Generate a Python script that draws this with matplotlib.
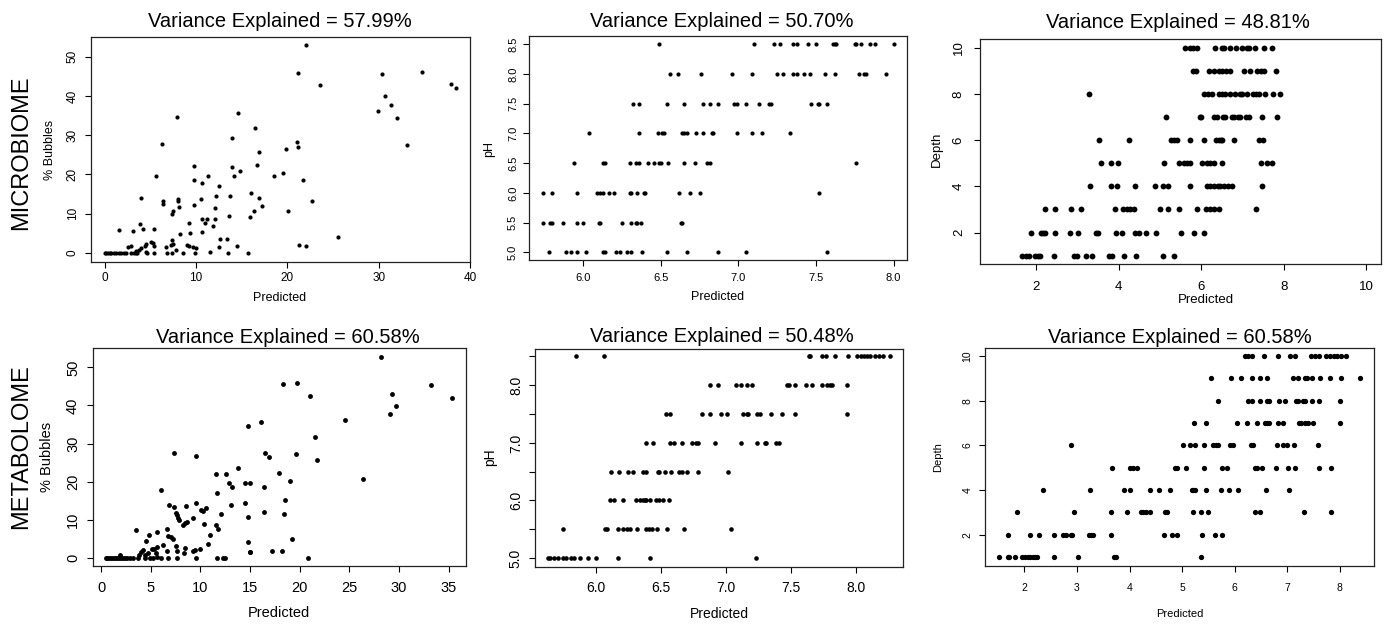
import numpy as np
import matplotlib
matplotlib.use("Agg")
import matplotlib.pyplot as plt

plt.rcParams['font.family'] = ['Liberation Sans', 'DejaVu Sans']

# ---------------- data ----------------
titles = ["Variance Explained = 57.99%", "Variance Explained = 50.70%", "Variance Explained = 48.81%",
          "Variance Explained = 60.58%", "Variance Explained = 50.48%", "Variance Explained = 60.58%"]
row_labels = ["MICROBIOME", "METABOLOME"]

# microbiome, % bubbles
mic_bub_pred = [22.0, 21.2, 30.4, 34.7, 23.6, 37.9, 38.5, 30.7, 31.3, 29.9,
                32.0, 7.86, 14.6, 33.1, 6.25, 13.9, 16.5, 21.0, 21.2, 19.8,
                16.9, 9.72, 13.9, 16.7, 14.8, 14.1, 11.3, 5.66, 18.5, 19.5,
                21.7, 9.76, 10.6, 12.5, 16.0, 12.2, 13.7, 16.9, 3.98, 8.0,
                8.07, 10.5, 6.39, 6.39, 9.76, 22.7, 17.2, 8.17, 12.1, 7.45,
                7.34, 16.3, 20.1, 15.9, 13.6, 12.1, 10.7, 11.2, 11.0, 9.24,
                3.87, 11.9, 1.53, 3.07, 4.20, 5.37, 10.7, 9.3, 8.2, 25.5,
                12.6, 13.4, 7.38, 7.45, 7.3, 5.04, 5.3, 5.44, 4.5, 4.4,
                3.95, 3.7, 3.4, 2.85, 2.5, 6.76, 9.0, 9.2, 9.7, 9.94,
                12.5, 14.5, 21.3, 22.0, 7.8, 11.5, 4.5]
mic_bub_obs = [53.0, 45.9, 45.7, 46.1, 42.7, 43.1, 42.0, 40.1, 37.8, 36.2,
               34.5, 34.7, 35.7, 27.6, 27.7, 29.4, 31.8, 28.3, 26.9, 26.6,
               25.7, 22.2, 21.9, 22.3, 20.8, 19.7, 19.6, 19.6, 19.7, 20.3,
               18.6, 18.6, 17.9, 17.1, 15.2, 14.6, 14.5, 14.0, 14.0, 13.8,
               13.2, 13.7, 13.2, 12.6, 12.3, 13.2, 12.0, 11.7, 11.5, 10.6,
               10.0, 10.6, 10.7, 9.3, 9.5, 8.7, 8.7, 8.6, 7.6, 7.6,
               7.5, 6.9, 5.9, 5.7, 6.1, 6.0, 5.3, 5.0, 4.75, 4.2,
               3.65, 3.5, 3.3, 2.4, 2.0, 2.8, 2.5, 1.8, 2.2, 1.8,
               1.4, 0.9, 0.6, 1.8, 1.5, 1.5, 2.0, 1.9, 1.6, 1.4,
               1.6, 1.7, 2.0, 1.9, 0.8, 0.35, 0.25]
# predictions for samples with 0 % bubbles
mic_bub_pred_zero = [0.0, 0.18, 0.37, 0.55, 0.73, 0.99, 1.24, 1.53, 1.79, 2.16, 2.37, 2.92,
                     3.18, 3.4, 3.58, 4.68, 5.37, 6.83, 7.34, 8.59, 9.83, 13.5, 15.7]

# microbiome, pH (observed levels and predicted values at each level)
mic_ph_levels = [8.5, 8.0, 7.5, 7.0, 6.5, 6.0, 5.5, 5.0]
mic_ph_pred = [
    [6.49, 7.10, 7.23, 7.27, 7.35, 7.38, 7.45, 7.50, 7.61, 7.62, 7.63, 7.75, 7.76, 7.79, 7.85, 7.88, 8.00],
    [6.56, 6.61, 6.76, 6.96, 7.09, 7.25, 7.29, 7.35, 7.38, 7.42, 7.46, 7.56, 7.62, 7.78, 7.81, 7.82, 7.95],
    [6.32, 6.36, 6.54, 6.65, 6.77, 6.82, 6.87, 6.97, 6.99, 7.05, 7.13, 7.20, 7.21, 7.47, 7.51, 7.52, 7.57],
    [6.04, 6.36, 6.48, 6.51, 6.52, 6.64, 6.65, 6.67, 6.73, 6.77, 6.83, 6.84, 6.99, 7.09, 7.15, 7.33],
    [5.94, 6.13, 6.14, 6.30, 6.34, 6.36, 6.42, 6.46, 6.49, 6.50, 6.55, 6.65, 6.72, 6.80, 6.82, 7.76],
    [5.74, 5.80, 5.96, 6.09, 6.11, 6.13, 6.17, 6.20, 6.30, 6.31, 6.35, 6.39, 6.40, 6.62, 6.69, 6.75, 7.52],
    [5.74, 5.79, 5.80, 5.87, 5.96, 6.00, 6.10, 6.11, 6.25, 6.31, 6.34, 6.35, 6.37, 6.63, 6.64],
    [5.78, 5.89, 5.92, 5.96, 6.02, 6.13, 6.14, 6.21, 6.24, 6.28, 6.31, 6.38, 6.54, 6.67, 6.87, 7.05, 7.57],
]

# microbiome, depth
mic_depth_levels = [10, 9, 8, 7, 6, 5, 4, 3, 2, 1]
mic_depth_pred = [
    [5.61, 5.72, 5.81, 5.89, 6.33, 6.50, 6.55, 6.70, 6.84, 6.99, 7.12, 7.17, 7.31, 7.51, 7.71],
    [5.81, 5.88, 6.19, 6.30, 6.44, 6.51, 6.60, 6.69, 7.04, 7.19, 7.35, 7.45, 7.51, 7.82],
    [3.28, 6.06, 6.16, 6.27, 6.44, 6.51, 6.57, 6.70, 6.81, 6.93, 6.99, 7.11, 7.25, 7.33, 7.39, 7.55, 7.74, 7.90],
    [5.15, 5.96, 5.99, 6.32, 6.38, 6.53, 6.58, 6.74, 6.79, 6.89, 6.94, 7.09, 7.17, 7.47, 7.83],
    [3.51, 4.25, 5.26, 5.34, 5.42, 5.73, 6.06, 6.35, 6.42, 6.48, 6.51, 6.79, 7.41, 7.49],
    [3.58, 3.82, 3.97, 5.09, 5.47, 5.57, 5.65, 5.73, 6.02, 6.13, 6.22, 6.32, 6.51, 7.45, 7.59, 7.71],
    [3.29, 3.81, 3.96, 4.39, 4.88, 5.07, 5.20, 5.73, 6.14, 6.22, 6.30, 6.40, 6.46, 6.56, 6.64, 6.75, 7.48],
    [2.20, 2.45, 2.83, 3.08, 3.91, 4.10, 4.20, 4.28, 4.36, 5.00, 5.20, 5.47, 5.89, 6.11, 6.21, 6.32, 6.42, 7.32],
    [1.87, 2.11, 2.16, 2.21, 2.45, 2.82, 3.02, 3.45, 3.49, 3.92, 4.08, 4.39, 4.48, 4.67, 4.90, 5.50, 5.82, 6.07],
    [1.64, 1.74, 1.81, 1.96, 2.03, 2.10, 2.42, 2.91, 2.99, 3.20, 3.36, 3.76, 3.83, 4.13, 4.41, 5.07, 5.35],
]

# metabolome, % bubbles
met_bub_pred = [28.2, 18.3, 19.7, 33.2, 21.0, 29.3, 35.3, 29.7, 29.1, 24.6,
                16.1, 14.8, 21.6, 7.32, 9.56, 16.5, 16.9, 19.6, 21.8, 13.8,
                17.9, 11.6, 12.6, 26.4, 19.0, 12.9, 13.2, 14.5, 15.0, 16.4,
                6.0, 11.7, 18.5, 9.53, 14.5, 6.88, 7.35, 8.56, 13.1, 10.6,
                10.1, 10.3, 7.55, 7.62, 12.1, 16.4, 18.4, 7.72, 7.82, 14.8,
                9.23, 8.69, 8.46, 8.26, 10.4, 11.6, 11.8, 3.56, 6.68, 5.67,
                11.0, 4.8, 6.74, 7.01, 7.25, 4.53, 14.8, 19.2, 10.8, 6.28,
                7.55, 8.42, 5.6, 5.34, 5.1, 9.97, 9.23, 9.5, 15.0, 15.0,
                17.2, 18.2, 6.68, 7.68, 8.39, 4.0, 4.26, 4.77, 5.5, 3.79,
                4.43, 1.88, 5.67]
met_bub_obs = [52.8, 45.7, 46.0, 45.5, 42.6, 43.0, 41.9, 39.9, 37.7, 36.2,
               35.6, 34.6, 31.7, 27.6, 26.8, 27.6, 26.6, 27.4, 25.6, 23.5,
               22.3, 21.9, 22.1, 20.8, 20.3, 19.8, 18.6, 19.6, 19.6, 18.5,
               17.9, 17.1, 15.2, 14.5, 14.5, 14.0, 13.3, 13.6, 13.8, 13.2,
               12.6, 12.2, 11.9, 11.3, 11.6, 12.0, 11.6, 10.4, 10.0, 10.7,
               10.5, 9.5, 9.1, 8.7, 8.8, 8.7, 7.6, 7.4, 7.5, 6.8,
               6.1, 5.9, 5.8, 5.6, 5.1, 4.5, 4.3, 4.9, 3.6, 3.5,
               3.2, 2.7, 2.8, 2.3, 2.4, 2.3, 1.9, 2.1, 1.7, 1.6,
               1.9, 1.9, 1.8, 1.9, 1.2, 1.7, 2.1, 1.4, 1.2, 0.8,
               0.8, 0.7, 0.2]
met_bub_pred_zero = [0.47, 0.64, 0.84, 1.04, 1.24, 1.44, 1.64, 1.85, 2.05, 2.25, 2.45, 2.65, 2.92,
                     3.19, 3.72, 4.46, 4.93, 5.2, 6.04, 6.74, 7.62, 9.53, 11.7, 12.3, 12.5, 20.8]

# metabolome, pH
met_ph_levels = [8.5, 8.0, 7.5, 7.0, 6.5, 6.0, 5.5, 5.0]
met_ph_pred = [
    [5.85, 6.06, 7.64, 7.65, 7.74, 7.77, 7.84, 7.94, 8.01, 8.04, 8.06, 8.09, 8.11, 8.15, 8.18, 8.21, 8.26],
    [6.88, 6.94, 7.08, 7.12, 7.16, 7.20, 7.47, 7.49, 7.53, 7.62, 7.66, 7.74, 7.78, 7.80, 7.82, 7.93],
    [6.54, 6.57, 6.82, 6.88, 6.96, 7.01, 7.13, 7.16, 7.17, 7.24, 7.26, 7.35, 7.43, 7.53, 7.93],
    [6.39, 6.44, 6.57, 6.60, 6.66, 6.74, 6.77, 6.79, 6.92, 7.12, 7.24, 7.30, 7.31, 7.39, 7.41],
    [6.12, 6.18, 6.25, 6.29, 6.36, 6.39, 6.48, 6.49, 6.53, 6.58, 6.64, 6.66, 6.70, 6.79, 7.02],
    [6.11, 6.14, 6.21, 6.31, 6.34, 6.36, 6.38, 6.39, 6.42, 6.46, 6.49, 6.52, 6.56],
    [5.75, 6.07, 6.09, 6.17, 6.21, 6.24, 6.26, 6.32, 6.39, 6.41, 6.43, 6.47, 6.55, 6.68, 7.04],
    [5.63, 5.65, 5.68, 5.71, 5.75, 5.77, 5.81, 5.83, 5.88, 5.94, 6.00, 6.17, 6.42, 7.23],
]

# metabolome, depth
met_depth_levels = [10, 9, 8, 7, 6, 5, 4, 3, 2, 1]
met_depth_pred = [
    [6.20, 6.26, 6.32, 6.56, 6.82, 7.05, 7.15, 7.46, 7.52, 7.61, 7.74, 7.81, 7.88, 7.94, 8.03, 8.11],
    [5.54, 5.93, 6.12, 6.32, 6.48, 6.61, 7.10, 7.20, 7.33, 7.37, 7.47, 7.62, 7.82, 8.02, 8.38],
    [5.68, 6.26, 6.33, 6.48, 6.61, 6.66, 6.84, 6.96, 7.17, 7.20, 7.30, 7.34, 7.47, 7.60, 8.01],
    [5.23, 5.45, 6.04, 6.23, 6.43, 6.58, 6.62, 6.66, 6.82, 6.92, 7.22, 7.27, 7.34, 7.40, 7.49, 8.01],
    [2.88, 5.02, 5.15, 5.24, 5.42, 5.58, 5.64, 5.69, 5.91, 5.96, 6.31, 6.34, 6.81, 6.92, 6.99, 7.13, 7.58],
    [3.67, 4.00, 4.07, 4.15, 4.86, 4.91, 5.07, 5.41, 5.75, 5.86, 6.39, 6.43, 6.51, 6.78, 7.02, 7.15, 7.60, 7.84],
    [2.35, 3.24, 3.89, 4.00, 4.39, 4.56, 4.76, 5.18, 5.21, 5.25, 5.46, 5.73, 5.90, 6.07, 6.60, 7.03],
    [1.85, 2.94, 3.64, 3.95, 4.21, 4.26, 4.32, 4.39, 4.67, 4.71, 5.20, 5.36, 5.50, 6.39, 6.49, 7.32, 7.84],
    [1.68, 2.11, 2.27, 2.57, 2.74, 2.80, 2.88, 2.91, 3.23, 3.27, 3.30, 3.64, 4.66, 4.81, 4.90, 5.37, 5.62, 5.75],
    [1.52, 1.68, 1.71, 1.82, 1.96, 2.01, 2.06, 2.11, 2.16, 2.21, 2.24, 2.57, 3.02, 3.71, 3.75, 5.36],
]

# ---------------- figure ----------------
W, H = 1387, 624
fig = plt.figure(figsize=(W / 100, H / 100), dpi=100)
TICK_LEN = 6  # px


def px(x, y):
    return x / W, 1 - y / H


def make_axes(box, xlim, ylim, xticks, yticks, tick_fs, dx, dy, ylabels=None, xfmt="{:g}", yfmt="{:g}"):
    left, top, right, bottom = box
    ax = fig.add_axes([left / W, 1 - bottom / H, (right - left) / W, (bottom - top) / H])
    ax.set_xlim(*xlim)
    ax.set_ylim(*ylim)
    ax.set_xticks(xticks)
    ax.set_xticklabels([xfmt.format(v) for v in xticks])
    ax.set_yticks(yticks)
    ax.set_yticklabels(ylabels if ylabels is not None else [yfmt.format(v) for v in yticks])
    fs_px = tick_fs * 100 / 72
    xpad = (dx - TICK_LEN - 0.37 * fs_px) * 0.72
    ypad = (dy - TICK_LEN - 0.57 * fs_px) * 0.72
    ax.tick_params(axis='x', length=TICK_LEN * 0.72, width=0.8, labelsize=tick_fs, pad=xpad)
    ax.tick_params(axis='y', length=TICK_LEN * 0.72, width=0.8, labelsize=tick_fs, pad=ypad,
                   labelrotation=90)
    for lbl in ax.get_yticklabels():
        lbl.set_va('center')
    for sp in ax.spines.values():
        sp.set_linewidth(0.9)
        sp.set_color('#222222')
    return ax


def labels(title_xy, xl_xy, yl_xy, xlabel, ylabel, lab_fs):
    fig.text(*px(*title_xy), title_text.pop(0), fontsize=14.5, ha='center', va='baseline')
    fig.text(*px(*xl_xy), xlabel, fontsize=lab_fs, ha='center', va='center')
    fig.text(*px(*yl_xy), ylabel, fontsize=lab_fs, ha='center', va='center', rotation=90)


title_text = list(titles)
dot = dict(linestyle='none', marker='o', color='black', markeredgewidth=0)

# --- microbiome: % bubbles ---
ax1 = make_axes((90.7, 37, 470, 261.7), (-1.54, 40.0), (-2.2, 55.0),
                [0, 10, 20, 30, 40], [0, 10, 20, 30, 40, 50], 8.5, 15, 18.5)
ax1.plot(mic_bub_pred, mic_bub_obs, markersize=3.0, **dot)
ax1.plot(mic_bub_pred_zero, np.zeros(len(mic_bub_pred_zero)), markersize=3.0, **dot)
labels((280, 26.7), (280, 298.3), (50, 150), "Predicted", "% Bubbles", 9)

# --- microbiome: pH ---
ph_ticks = [5.0, 5.5, 6.0, 6.5, 7.0, 7.5, 8.0, 8.5]
ax2 = make_axes((529, 36, 907.3, 260.3), (5.652, 8.088), (4.865, 8.64),
                [6.0, 6.5, 7.0, 7.5, 8.0], ph_ticks, 8, 16.4, 17.3,
                xfmt="{:.1f}", yfmt="{:.1f}")
for lvl, xs in zip(mic_ph_levels, mic_ph_pred):
    ax2.plot(xs, [lvl] * len(xs), markersize=3.0, **dot)
labels((721.7, 26.7), (717.7, 297.3), (489.3, 149), "Predicted", "pH", 9)

# --- microbiome: depth ---
ax3 = make_axes((980.3, 39.3, 1381, 264), (0.64, 10.36), (0.64, 10.36),
                [2, 4, 6, 8, 10], [2, 4, 6, 8, 10], 9.5, 22, 23)
for lvl, xs in zip(mic_depth_levels, mic_depth_pred):
    ax3.plot(xs, [lvl] * len(xs), markersize=4.2, **dot)
labels((1178, 28.3), (1205.7, 300), (937.3, 149.3), "Predicted", "Depth", 9.5)

# --- metabolome: % bubbles ---
ax4 = make_axes((92.7, 348.3, 466, 566), (-0.84, 36.76), (-2.1, 55.0),
                [0, 5, 10, 15, 20, 25, 30, 35], [0, 10, 20, 30, 40, 50], 10.5, 20, 21)
ax4.plot(met_bub_pred, met_bub_obs, markersize=3.5, **dot)
ax4.plot(met_bub_pred_zero, np.zeros(len(met_bub_pred_zero)), markersize=3.5, **dot)
labels((288.3, 343.3), (279.3, 613.3), (46.7, 456.7), "Predicted", "% Bubbles", 10.5)

# --- metabolome: pH ---
ax5 = make_axes((535, 349, 903.3, 566.7), (5.533, 8.366), (4.85, 8.63),
                [6.0, 6.5, 7.0, 7.5, 8.0], ph_ticks, 10, 19.3, 20,
                ylabels=["{:.1f}".format(v) if v % 1 == 0 else "" for v in ph_ticks],
                xfmt="{:.1f}")
for lvl, xs in zip(met_ph_levels, met_ph_pred):
    ax5.plot(xs, [lvl] * len(xs), markersize=3.3, **dot)
labels((721.7, 342.3), (719, 614), (490, 457.3), "Predicted", "pH", 10)

# --- metabolome: depth ---
ax6 = make_axes((985, 347.7, 1374, 565.7), (1.25, 8.65), (0.61, 10.37),
                [2, 3, 4, 5, 6, 7, 8], [2, 4, 6, 8, 10], 7.5, 21, 18.3)
for lvl, xs in zip(met_depth_levels, met_depth_pred):
    ax6.plot(xs, [lvl] * len(xs), markersize=3.8, **dot)
labels((1179.7, 343.3), (1180, 614), (938.3, 456.7), "Predicted", "Depth", 8)

# row labels
fig.text(*px(21, 153), row_labels[0], fontsize=17, rotation=90, ha='center', va='center')
fig.text(*px(21, 446.7), row_labels[1], fontsize=17, rotation=90, ha='center', va='center')

fig.savefig("out.png", dpi=100)
